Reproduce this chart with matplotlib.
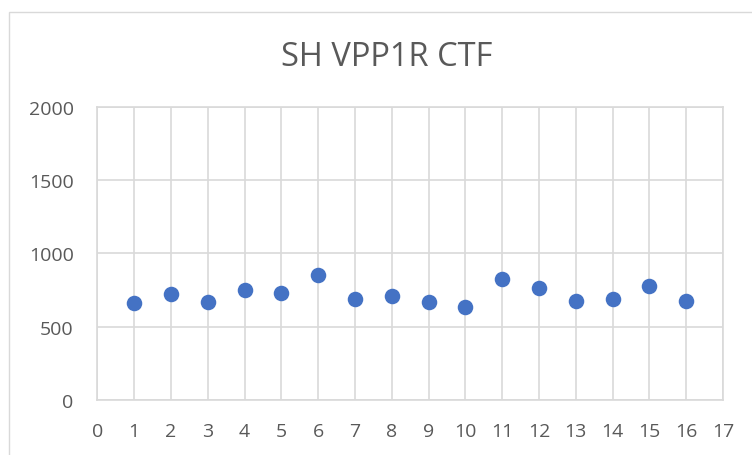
import matplotlib.pyplot as plt
from matplotlib.patches import Rectangle

# CTF readings per sample
sample = [1, 2, 3, 4, 5, 6, 7, 8, 9, 10, 11, 12, 13, 14, 15, 16]
ctf = [659, 719, 668, 750, 732, 850, 687, 707, 668, 634, 823, 764, 673, 689, 775, 675]

xticks = list(range(0, 18))
yticks = [0, 500, 1000, 1500, 2000]

plt.rcParams['font.family'] = ['Open Sans', 'DejaVu Sans']
grey = '#595959'

fig = plt.figure(figsize=(7.52, 4.56), dpi=100)
# outer chart border
fig.patches.append(Rectangle((9 / 752, -0.1), 1.0, (456 - 13) / 456 + 0.1,
                             transform=fig.transFigure, fill=False,
                             edgecolor='#D9D9D9', linewidth=1))

ax = fig.add_axes([97.3 / 752, 55.3 / 456, (723 - 97.3) / 752, (400.7 - 108) / 456])
ax.scatter(sample, ctf, s=125, color='#4472C4', zorder=3, linewidths=0)

ax.set_xlim(0, 17)
ax.set_ylim(0, 2000)
ax.set_xticks(xticks)
ax.set_yticks(yticks)
ax.grid(True, color='#D9D9D9', linewidth=1.2)
ax.set_axisbelow(True)
for sp in ax.spines.values():
    sp.set_color('#D9D9D9')
    sp.set_linewidth(1.2)
ax.tick_params(length=0, labelsize=14, colors=grey)
ax.tick_params(axis='x', pad=16)
ax.tick_params(axis='y', pad=17)

fig.text(386.5 / 752, 1 - 66 / 456, 'SH VPP1R CTF', ha='center', va='baseline',
         fontsize=23.5, color=grey)

fig.savefig('out.png', dpi=100)
